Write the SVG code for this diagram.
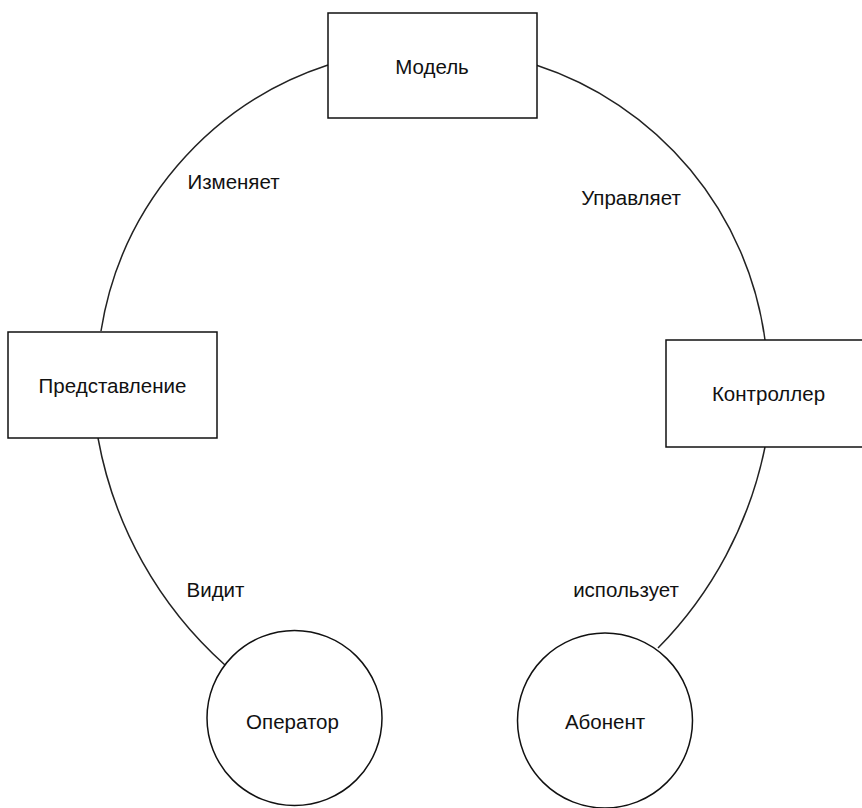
<svg xmlns="http://www.w3.org/2000/svg" width="862" height="808" viewBox="0 0 862 808">
<style>
.box{fill:#fff;stroke:#111;stroke-width:1.5}
.conn{fill:none;stroke:#222;stroke-width:1.5}
.t{font-family:"Liberation Sans",Arial,sans-serif;font-size:20.5px;fill:#111;text-anchor:middle}
</style>
<rect width="862" height="808" fill="#fff"/>
<g id="connectors">
<path class="conn" d="M328 65 A335 335 0 0 0 101 331"/>
<path class="conn" d="M536 65 A336 336 0 0 1 765 340"/>
<path class="conn" d="M98 438 A400 400 0 0 0 225 665"/>
<path class="conn" d="M765 447 A400 400 0 0 1 658 648"/>
<text class="t" x="233.5" y="189">Изменяет</text>
<text class="t" x="631" y="205">Управляет</text>
<text class="t" x="215.5" y="597">Видит</text>
<text class="t" x="626" y="597">использует</text>
</g>
<g id="model">
<rect class="box" x="328" y="13" width="209" height="105"/>
<text class="t" x="432" y="74">Модель</text>
</g>
<g id="view">
<rect class="box" x="8" y="332" width="209" height="106"/>
<text class="t" x="112.5" y="393">Представление</text>
</g>
<g id="controller">
<rect class="box" x="666" y="340" width="209" height="107"/>
<text class="t" x="768.5" y="401">Контроллер</text>
</g>
<g id="operator">
<circle class="box" cx="294.5" cy="718" r="87.5"/>
<text class="t" x="292.5" y="729">Оператор</text>
</g>
<g id="subscriber">
<circle class="box" cx="605" cy="720.5" r="87.5"/>
<text class="t" x="605" y="729">Абонент</text>
</g>
</svg>
